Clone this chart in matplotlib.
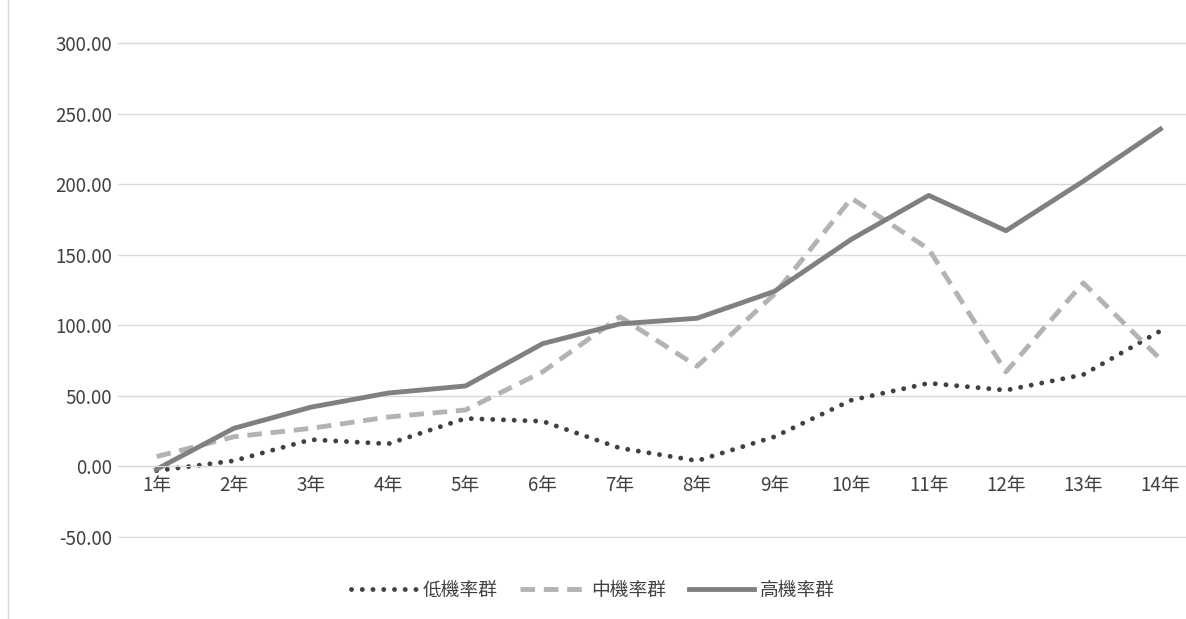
import matplotlib
matplotlib.use("Agg")
import matplotlib.pyplot as plt
import numpy as np

plt.rcParams['font.family'] = ['Noto Sans CJK TC', 'DejaVu Sans']

years = ["1年", "2年", "3年", "4年", "5年", "6年", "7年", "8年", "9年", "10年", "11年", "12年", "13年", "14年"]
low = [-3, 4, 19, 16, 34, 32, 13, 4, 21, 47, 59, 54, 65, 96]
mid = [7, 21, 27, 35, 40, 67, 106, 71, 122, 190, 154, 67, 130, 76]
high = [-2, 27, 42, 52, 57, 87, 101, 105, 124, 161, 192, 167, 202, 239]

fig = plt.figure(figsize=(11.86, 6.19), dpi=100)
ax = fig.add_axes([118 / 1186, 1 - 538 / 619, (1199 - 118) / 1186, (538 - 42) / 619])
x = np.arange(len(years))

ax.plot(x, low, color="#404040", lw=3.5, linestyle=(0, (0.01, 2.2)), dash_capstyle="round", label="低機率群")
ax.plot(x, mid, color="#b3b3b3", lw=3.5, linestyle=(0, (3, 1.8)), label="中機率群")
ax.plot(x, high, color="#808080", lw=3.5, label="高機率群")

ax.spines["bottom"].set_position(("data", 0))
ax.spines["bottom"].set_color("#d9d9d9")
for s in ["top", "right", "left"]:
    ax.spines[s].set_visible(False)

ax.set_xlim(-0.5, 13.5)
ax.set_ylim(-50.7, 300.7)
ticks = np.arange(-50, 301, 50)
ax.set_yticks(ticks)
ax.set_yticklabels([f"{v:.2f}" for v in ticks], fontsize=13.5, color="#404040")
ax.yaxis.grid(True, color="#d9d9d9", lw=1)
ax.set_axisbelow(True)
ax.set_xticks(x)
ax.set_xticklabels(years, fontsize=13.5, color="#404040")
ax.tick_params(length=0)
ax.tick_params(axis="y", pad=4)
ax.tick_params(axis="x", pad=6)

fig.legend(loc="center", bbox_to_anchor=(0.5, 1 - 590 / 619), ncol=3, frameon=False,
           fontsize=13.5, handlelength=3.5, columnspacing=1.2, handletextpad=0.3,
           labelcolor="#404040")
fig.add_artist(plt.Line2D([8 / 1186, 8 / 1186], [0, 1], color="#d9d9d9", lw=1))

fig.savefig("out.png", dpi=100)
